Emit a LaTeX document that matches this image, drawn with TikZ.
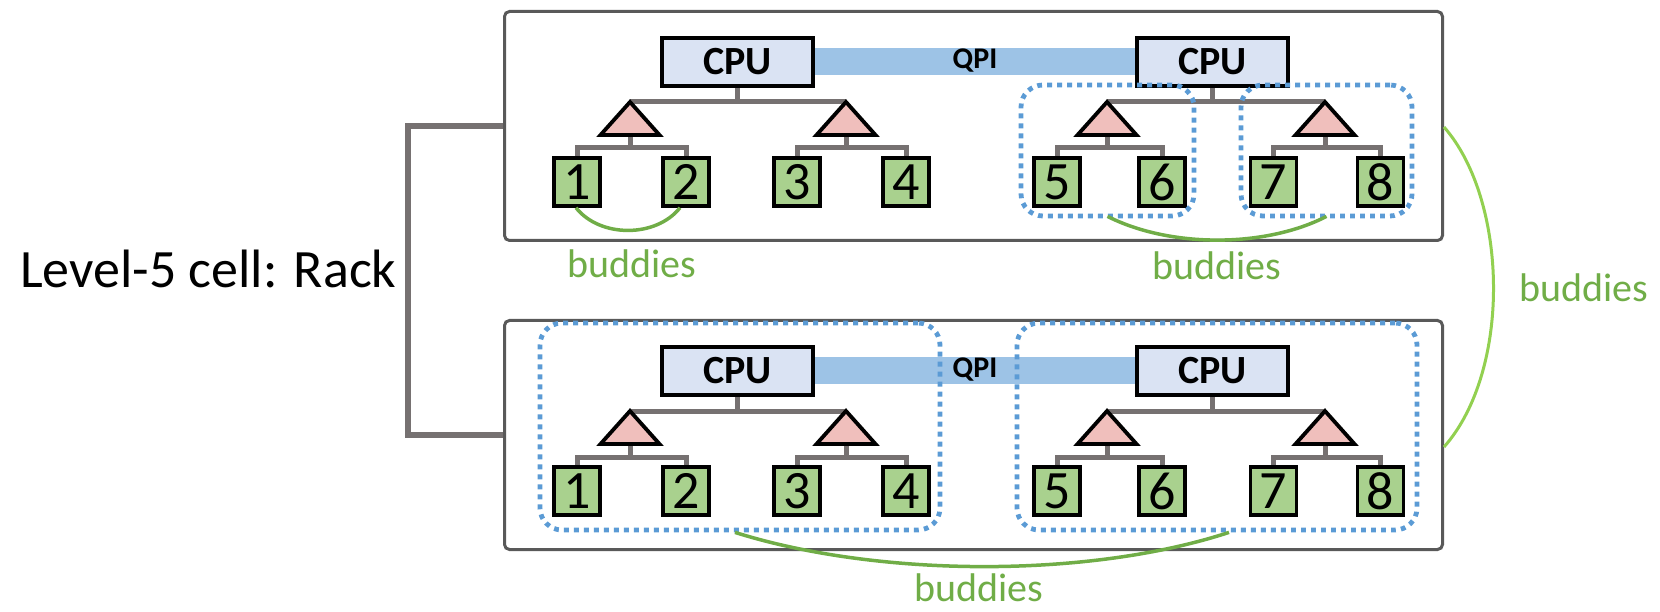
\documentclass[tikz,border=0pt]{standalone}
\usepackage{fontspec}
\setmainfont{Carlito}
\usetikzlibrary{backgrounds,calc}
\definecolor{rackgray}{HTML}{595959}
\definecolor{busgray}{HTML}{767171}
\definecolor{cpufill}{HTML}{DAE3F3}
\definecolor{trifill}{HTML}{F0BFBC}
\definecolor{leaffill}{HTML}{A9D18E}
\definecolor{qpifill}{HTML}{9DC3E6}
\definecolor{dotblue}{HTML}{5B9BD5}
\definecolor{budgreen}{HTML}{70AD47}
\definecolor{limegreen}{HTML}{92D050}
\begin{document}
\begin{tikzpicture}[x=1pt,y=-1pt,
  rack/.style={draw=rackgray, line width=3pt, rounded corners=5pt,
    minimum width=938pt, minimum height=229pt, inner sep=0pt},
  cpu/.style={draw=black, line width=3.5pt, fill=cpufill,
    minimum width=151pt, minimum height=48pt, inner sep=0pt,
    font=\fontsize{40}{40}\selectfont\bfseries},
  leaf/.style={draw=black, line width=3.5pt, fill=leaffill,
    minimum width=46pt, minimum height=48pt, inner sep=0pt,
    font=\fontsize{54}{54}\selectfont},
  tri/.style={draw=black, line width=3.8pt, fill=trifill, line join=miter},
  bus/.style={draw=busgray, line width=5pt},
  bracket/.style={draw=busgray, line width=6.5pt},
  dotbox/.style={draw=dotblue, line width=4.8pt, dash pattern=on 4.8pt off 5.2pt,
    rounded corners=22pt, inner sep=0pt},
  budarc/.style={draw=budgreen, line width=3.5pt},
  budtext/.style={text=budgreen, font=\fontsize{40}{40}\selectfont, inner sep=0pt},
  qpitext/.style={font=\fontsize{30}{30}\selectfont\bfseries, inner sep=0pt}
]
\useasboundingbox (0,0) rectangle (1660,612);

% two servers of the rack, the second one shifted down
\foreach \r/\dy in {t/0,b/309}{
  \node[rack] (rack\r) at (973.5,126+\dy) {};
  \node[cpu] (cpuL\r) at (737.5,62+\dy) {CPU};
  \node[cpu] (cpuR\r) at (1212.5,62+\dy) {CPU};
  % switch apexes, hubs and leaf nodes
  \foreach \i/\x in {1/630,2/846,3/1107,4/1325}{
    \coordinate (ap\r\i) at (\x,102+\dy);
    \coordinate (bs\r\i) at (\x,135+\dy);
    \coordinate (hb\r\i) at (\x,148+\dy);
  }
  \foreach \i/\x in {1/577,2/686,3/797,4/906,5/1057,6/1162,7/1273.5,8/1380.5}{
    \node[leaf] (n\r\i) at (\x,182+\dy) {\i};
  }
  \begin{scope}[on background layer]
    \fill[qpifill] ([yshift=14pt]cpuL\r.east) rectangle ([yshift=-13pt]cpuR\r.west);
    \draw[bus] (cpuL\r.south) -- (cpuL\r.south |- ap\r1);
    \draw[bus] (cpuR\r.south) -- (cpuR\r.south |- ap\r3);
    \draw[bus] (ap\r1) -- (ap\r2);
    \draw[bus] (ap\r3) -- (ap\r4);
    \foreach \i/\a/\b in {1/1/2,2/3/4,3/5/6,4/7/8}{
      \draw[bus] (bs\r\i) -- (hb\r\i);
      \draw[bus] (n\r\a.north) |- (hb\r\i) -| (n\r\b.north);
    }
  \end{scope}
  \node[qpitext] (qpi\r) at ($(cpuL\r.east)!0.5!(cpuR\r.west)+(0,-1)$) {QPI};
  \foreach \i in {1,2,3,4}{
    \draw[tri] (ap\r\i) -- ++(-29.5,33) -- ++(59,0) -- cycle;
  }
}

% rack bracket
\coordinate (brk) at (408,0);
\draw[bracket] (rackt.west) -- (brk |- rackt.west) -- (brk |- rackb.west) -- (rackb.west);
\node[anchor=base west, font=\fontsize{54}{54}\selectfont, inner sep=0pt]
  (lvl) at (20,288) {Level-5 cell: Rack};

% buddy groups
\node[dotbox, minimum width=173pt, minimum height=131pt] (gt1) at (1107.5,150.5) {};
\node[dotbox, minimum width=171pt, minimum height=131pt] (gt2) at (1326.5,150.5) {};
\node[dotbox, minimum width=400pt, minimum height=207pt] (gb1) at (740,426.5) {};
\node[dotbox, minimum width=400pt, minimum height=207pt] (gb2) at (1217,426.5) {};

% buddy links
\draw[budarc] ([xshift=-1pt]nt1.south) .. controls (600,238) and (656,238) .. ([xshift=-6pt]nt2.south);
\draw[budarc] ([yshift=2pt]gt1.south) .. controls (1170,248) and (1265,248) .. ([yshift=2pt]gt2.south);
\draw[budarc] ([xshift=-5pt]gb1.south) .. controls (880,578) and (1090,578) .. ([xshift=12pt]gb2.south);
\draw[draw=limegreen, line width=3pt] ([yshift=-1pt]rackt.east) .. controls (1508,200) and (1512,370) .. ([yshift=-12pt]rackb.east);

\node[budtext] (bud1) at (632,264) {buddies};
\node[budtext] (bud2) at (1217,266) {buddies};
\node[budtext] (bud3) at (1584,288) {buddies};
\node[budtext] (bud4) at (979,588) {buddies};
\end{tikzpicture}
\end{document}
